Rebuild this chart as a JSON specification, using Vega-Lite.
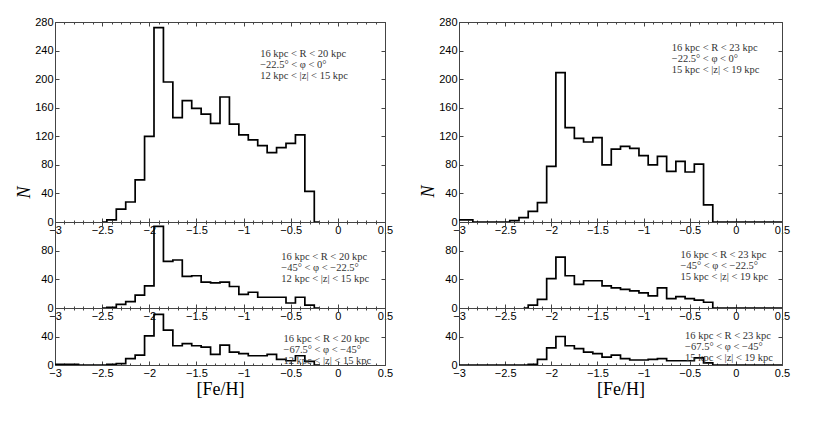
{
  "$schema": "https://vega.github.io/schema/vega-lite/v6.json",
  "background": "white",
  "padding": {"left": 14, "top": 15, "right": 5, "bottom": 5},
  "config": {
    "view": {"stroke": "#444", "strokeWidth": 1},
    "axis": {"grid": false, "domain": false, "labelFont": "Liberation Sans", "labelFontSize": 11, "labelColor": "#000", "tickColor": "#444", "tickWidth": 1, "labelFlush": false, "labelOverlap": false},
    "text": {"font": "Liberation Serif", "fontSize": 10.5, "color": "#333", "lineHeight": 11, "align": "left", "baseline": "middle"}
  },
  "datasets": {
    "hist": [
      {"panel":"LT","feh":-2.5,"n":0},{"panel":"LT","feh":-2.4,"n":3},{"panel":"LT","feh":-2.3,"n":18},{"panel":"LT","feh":-2.2,"n":28},{"panel":"LT","feh":-2.1,"n":59},{"panel":"LT","feh":-2.0,"n":120},{"panel":"LT","feh":-1.9,"n":272},{"panel":"LT","feh":-1.8,"n":196},{"panel":"LT","feh":-1.7,"n":146},{"panel":"LT","feh":-1.6,"n":170},{"panel":"LT","feh":-1.5,"n":159},{"panel":"LT","feh":-1.4,"n":151},{"panel":"LT","feh":-1.3,"n":138},{"panel":"LT","feh":-1.2,"n":175},{"panel":"LT","feh":-1.1,"n":137},{"panel":"LT","feh":-1.0,"n":122},{"panel":"LT","feh":-0.9,"n":115},{"panel":"LT","feh":-0.8,"n":107},{"panel":"LT","feh":-0.7,"n":97},{"panel":"LT","feh":-0.6,"n":104},{"panel":"LT","feh":-0.5,"n":110},{"panel":"LT","feh":-0.4,"n":122},{"panel":"LT","feh":-0.3,"n":43},{"panel":"LT","feh":-0.2,"n":0},
      {"panel":"LM","feh":-2.5,"n":0},{"panel":"LM","feh":-2.4,"n":1},{"panel":"LM","feh":-2.3,"n":5},{"panel":"LM","feh":-2.2,"n":9},{"panel":"LM","feh":-2.1,"n":18},{"panel":"LM","feh":-2.0,"n":31},{"panel":"LM","feh":-1.9,"n":114},{"panel":"LM","feh":-1.8,"n":65},{"panel":"LM","feh":-1.7,"n":67},{"panel":"LM","feh":-1.6,"n":44},{"panel":"LM","feh":-1.5,"n":45},{"panel":"LM","feh":-1.4,"n":36},{"panel":"LM","feh":-1.3,"n":35},{"panel":"LM","feh":-1.2,"n":36},{"panel":"LM","feh":-1.1,"n":30},{"panel":"LM","feh":-1.0,"n":19},{"panel":"LM","feh":-0.9,"n":22},{"panel":"LM","feh":-0.8,"n":15},{"panel":"LM","feh":-0.7,"n":15},{"panel":"LM","feh":-0.6,"n":15},{"panel":"LM","feh":-0.5,"n":7},{"panel":"LM","feh":-0.4,"n":15},{"panel":"LM","feh":-0.3,"n":4},{"panel":"LM","feh":-0.2,"n":0},
      {"panel":"LB","feh":-3.0,"n":1},{"panel":"LB","feh":-2.9,"n":1},{"panel":"LB","feh":-2.8,"n":1},{"panel":"LB","feh":-2.7,"n":0},{"panel":"LB","feh":-2.6,"n":0},{"panel":"LB","feh":-2.5,"n":0},{"panel":"LB","feh":-2.4,"n":1},{"panel":"LB","feh":-2.3,"n":2},{"panel":"LB","feh":-2.2,"n":9},{"panel":"LB","feh":-2.1,"n":14},{"panel":"LB","feh":-2.0,"n":41},{"panel":"LB","feh":-1.9,"n":71},{"panel":"LB","feh":-1.8,"n":49},{"panel":"LB","feh":-1.7,"n":27},{"panel":"LB","feh":-1.6,"n":30},{"panel":"LB","feh":-1.5,"n":27},{"panel":"LB","feh":-1.4,"n":25},{"panel":"LB","feh":-1.3,"n":15},{"panel":"LB","feh":-1.2,"n":28},{"panel":"LB","feh":-1.1,"n":18},{"panel":"LB","feh":-1.0,"n":16},{"panel":"LB","feh":-0.9,"n":13},{"panel":"LB","feh":-0.8,"n":13},{"panel":"LB","feh":-0.7,"n":15},{"panel":"LB","feh":-0.6,"n":8},{"panel":"LB","feh":-0.5,"n":6},{"panel":"LB","feh":-0.4,"n":13},{"panel":"LB","feh":-0.3,"n":5},{"panel":"LB","feh":-0.2,"n":0},
      {"panel":"RT","feh":-3.0,"n":3},{"panel":"RT","feh":-2.9,"n":3},{"panel":"RT","feh":-2.8,"n":0},{"panel":"RT","feh":-2.7,"n":0},{"panel":"RT","feh":-2.6,"n":0},{"panel":"RT","feh":-2.5,"n":0},{"panel":"RT","feh":-2.4,"n":2},{"panel":"RT","feh":-2.3,"n":6},{"panel":"RT","feh":-2.2,"n":15},{"panel":"RT","feh":-2.1,"n":27},{"panel":"RT","feh":-2.0,"n":78},{"panel":"RT","feh":-1.9,"n":209},{"panel":"RT","feh":-1.8,"n":132},{"panel":"RT","feh":-1.7,"n":117},{"panel":"RT","feh":-1.6,"n":112},{"panel":"RT","feh":-1.5,"n":118},{"panel":"RT","feh":-1.4,"n":80},{"panel":"RT","feh":-1.3,"n":102},{"panel":"RT","feh":-1.2,"n":106},{"panel":"RT","feh":-1.1,"n":103},{"panel":"RT","feh":-1.0,"n":93},{"panel":"RT","feh":-0.9,"n":80},{"panel":"RT","feh":-0.8,"n":92},{"panel":"RT","feh":-0.7,"n":71},{"panel":"RT","feh":-0.6,"n":85},{"panel":"RT","feh":-0.5,"n":70},{"panel":"RT","feh":-0.4,"n":81},{"panel":"RT","feh":-0.3,"n":24},{"panel":"RT","feh":-0.2,"n":0},{"panel":"RT","feh":-0.1,"n":0},{"panel":"RT","feh":0.0,"n":0},{"panel":"RT","feh":0.1,"n":0},{"panel":"RT","feh":0.2,"n":0},{"panel":"RT","feh":0.3,"n":0},{"panel":"RT","feh":0.4,"n":0},{"panel":"RT","feh":0.5,"n":0},
      {"panel":"RM","feh":-2.3,"n":0},{"panel":"RM","feh":-2.2,"n":4},{"panel":"RM","feh":-2.1,"n":12},{"panel":"RM","feh":-2.0,"n":41},{"panel":"RM","feh":-1.9,"n":71},{"panel":"RM","feh":-1.8,"n":45},{"panel":"RM","feh":-1.7,"n":33},{"panel":"RM","feh":-1.6,"n":38},{"panel":"RM","feh":-1.5,"n":38},{"panel":"RM","feh":-1.4,"n":31},{"panel":"RM","feh":-1.3,"n":28},{"panel":"RM","feh":-1.2,"n":26},{"panel":"RM","feh":-1.1,"n":24},{"panel":"RM","feh":-1.0,"n":21},{"panel":"RM","feh":-0.9,"n":17},{"panel":"RM","feh":-0.8,"n":28},{"panel":"RM","feh":-0.7,"n":13},{"panel":"RM","feh":-0.6,"n":16},{"panel":"RM","feh":-0.5,"n":13},{"panel":"RM","feh":-0.4,"n":11},{"panel":"RM","feh":-0.3,"n":8},{"panel":"RM","feh":-0.2,"n":0},{"panel":"RM","feh":-0.1,"n":0},{"panel":"RM","feh":0.0,"n":0},{"panel":"RM","feh":0.1,"n":0},{"panel":"RM","feh":0.2,"n":0},{"panel":"RM","feh":0.3,"n":0},{"panel":"RM","feh":0.4,"n":0},{"panel":"RM","feh":0.5,"n":0},
      {"panel":"RB","feh":-3.0,"n":0},{"panel":"RB","feh":-2.9,"n":0},{"panel":"RB","feh":-2.8,"n":0},{"panel":"RB","feh":-2.7,"n":0},{"panel":"RB","feh":-2.6,"n":0},{"panel":"RB","feh":-2.5,"n":0},{"panel":"RB","feh":-2.4,"n":0},{"panel":"RB","feh":-2.3,"n":0},{"panel":"RB","feh":-2.2,"n":1},{"panel":"RB","feh":-2.1,"n":8},{"panel":"RB","feh":-2.0,"n":24},{"panel":"RB","feh":-1.9,"n":40},{"panel":"RB","feh":-1.8,"n":27},{"panel":"RB","feh":-1.7,"n":23},{"panel":"RB","feh":-1.6,"n":18},{"panel":"RB","feh":-1.5,"n":16},{"panel":"RB","feh":-1.4,"n":11},{"panel":"RB","feh":-1.3,"n":14},{"panel":"RB","feh":-1.2,"n":9},{"panel":"RB","feh":-1.1,"n":7},{"panel":"RB","feh":-1.0,"n":7},{"panel":"RB","feh":-0.9,"n":8},{"panel":"RB","feh":-0.8,"n":9},{"panel":"RB","feh":-0.7,"n":6},{"panel":"RB","feh":-0.6,"n":6},{"panel":"RB","feh":-0.5,"n":6},{"panel":"RB","feh":-0.4,"n":10},{"panel":"RB","feh":-0.3,"n":3},{"panel":"RB","feh":-0.2,"n":0},{"panel":"RB","feh":-0.1,"n":0},{"panel":"RB","feh":0.0,"n":0},{"panel":"RB","feh":0.1,"n":0},{"panel":"RB","feh":0.2,"n":0},{"panel":"RB","feh":0.3,"n":0},{"panel":"RB","feh":0.4,"n":0},{"panel":"RB","feh":0.5,"n":0}
    ]
  },
  "columns": 2,
  "spacing": {"row": 0, "column": 74},
  "bounds": "flush",
  "concat": [
    {
      "width": 330, "height": 200,
      "data": {"name": "hist"},
      "transform": [{"filter": "datum.panel === 'LT'"}],
      "layer": [
        {"mark": {"type": "line", "interpolate": "step", "color": "#000", "strokeWidth": 1.7, "clip": true},
         "encoding": {
           "x": {"field": "feh", "type": "quantitative", "scale": {"domain": [-3, 0.5], "nice": false, "zero": false}, "axis": {"orient": "bottom", "values": [-3,-2.5,-2,-1.5,-1,-0.5,0,0.5], "format": "~g", "ticks": false, "labelPadding": 2, "title": null}},
           "y": {"field": "n", "type": "quantitative", "scale": {"domain": [0, 280], "nice": false, "zero": false}, "axis": {"orient": "left", "values": [0,40,80,120,160,200,240,280], "ticks": false, "labelPadding": 2, "title": "N", "titleFont": "Liberation Serif", "titleFontStyle": "italic", "titleFontWeight": "normal", "titleFontSize": 18, "titleColor": "#000", "titleAngle": -90, "titleX": -31, "titleY": 170, "titleBaseline": "middle", "titleAlign": "center"}}
         }},
        {"mark": {"type": "line", "strokeOpacity": 0},
         "encoding": {
           "x": {"field": "feh", "type": "quantitative", "axis": {"orient": "bottom", "values": [-3,-2.5,-2,-1.5,-1,-0.5,0,0.5], "labels": false, "tickSize": -4, "title": null}},
           "y": {"field": "n", "type": "quantitative", "axis": {"orient": "left", "values": [0,40,80,120,160,200,240,280], "labels": false, "tickSize": -4, "title": null}}
         }},
        {"mark": {"type": "line", "strokeOpacity": 0},
         "encoding": {
           "x": {"field": "feh", "type": "quantitative", "axis": {"orient": "top", "values": [-3,-2.5,-2,-1.5,-1,-0.5,0,0.5], "labels": false, "tickSize": -4, "title": null}},
           "y": {"field": "n", "type": "quantitative", "axis": {"orient": "right", "values": [0,40,80,120,160,200,240,280], "labels": false, "tickSize": -4, "title": null}}
         }},
        {"mark": {"type": "line", "strokeOpacity": 0},
         "encoding": {
           "x": {"field": "feh", "type": "quantitative", "axis": {"orient": "bottom", "values": [-3,-2.9,-2.8,-2.7,-2.6,-2.5,-2.4,-2.3,-2.2,-2.1,-2,-1.9,-1.8,-1.7,-1.6,-1.5,-1.4,-1.3,-1.2,-1.1,-1,-0.9,-0.8,-0.7,-0.6,-0.5,-0.4,-0.3,-0.2,-0.1,0,0.1,0.2,0.3,0.4,0.5], "labels": false, "tickSize": -2, "title": null}},
           "y": {"field": "n", "type": "quantitative", "axis": null}
         }},
        {"mark": {"type": "line", "strokeOpacity": 0},
         "encoding": {
           "x": {"field": "feh", "type": "quantitative", "axis": {"orient": "top", "values": [-3,-2.9,-2.8,-2.7,-2.6,-2.5,-2.4,-2.3,-2.2,-2.1,-2,-1.9,-1.8,-1.7,-1.6,-1.5,-1.4,-1.3,-1.2,-1.1,-1,-0.9,-0.8,-0.7,-0.6,-0.5,-0.4,-0.3,-0.2,-0.1,0,0.1,0.2,0.3,0.4,0.5], "labels": false, "tickSize": -2, "title": null}},
           "y": {"field": "n", "type": "quantitative", "axis": null}
         }},
        {"data": {"values": [{}]},
         "mark": {"type": "text", "text": ["16 kpc < R < 20 kpc", "−22.5° < φ < 0°", "12 kpc < |z| < 15 kpc"]},
         "encoding": {"x": {"datum": -0.824, "type": "quantitative", "axis": null}, "y": {"datum": 235, "type": "quantitative", "axis": null}}}
      ],
      "resolve": {"axis": {"x": "independent", "y": "independent"}}
    },
    {
      "width": 323, "height": 200,
      "data": {"name": "hist"},
      "transform": [{"filter": "datum.panel === 'RT'"}],
      "layer": [
        {"mark": {"type": "line", "interpolate": "step", "color": "#000", "strokeWidth": 1.7, "clip": true},
         "encoding": {
           "x": {"field": "feh", "type": "quantitative", "scale": {"domain": [-3, 0.5], "nice": false, "zero": false}, "axis": {"orient": "bottom", "values": [-3,-2.5,-2,-1.5,-1,-0.5,0,0.5], "format": "~g", "ticks": false, "labelPadding": 2, "title": null}},
           "y": {"field": "n", "type": "quantitative", "scale": {"domain": [0, 280], "nice": false, "zero": false}, "axis": {"orient": "left", "values": [0,40,80,120,160,200,240,280], "ticks": false, "labelPadding": 2, "title": "N", "titleFont": "Liberation Serif", "titleFontStyle": "italic", "titleFontWeight": "normal", "titleFontSize": 18, "titleColor": "#000", "titleAngle": -90, "titleX": -31, "titleY": 169, "titleBaseline": "middle", "titleAlign": "center"}}
         }},
        {"mark": {"type": "line", "strokeOpacity": 0},
         "encoding": {
           "x": {"field": "feh", "type": "quantitative", "axis": {"orient": "bottom", "values": [-3,-2.5,-2,-1.5,-1,-0.5,0,0.5], "labels": false, "tickSize": -4, "title": null}},
           "y": {"field": "n", "type": "quantitative", "axis": {"orient": "left", "values": [0,40,80,120,160,200,240,280], "labels": false, "tickSize": -4, "title": null}}
         }},
        {"mark": {"type": "line", "strokeOpacity": 0},
         "encoding": {
           "x": {"field": "feh", "type": "quantitative", "axis": {"orient": "top", "values": [-3,-2.5,-2,-1.5,-1,-0.5,0,0.5], "labels": false, "tickSize": -4, "title": null}},
           "y": {"field": "n", "type": "quantitative", "axis": {"orient": "right", "values": [0,40,80,120,160,200,240,280], "labels": false, "tickSize": -4, "title": null}}
         }},
        {"mark": {"type": "line", "strokeOpacity": 0},
         "encoding": {
           "x": {"field": "feh", "type": "quantitative", "axis": {"orient": "bottom", "values": [-3,-2.9,-2.8,-2.7,-2.6,-2.5,-2.4,-2.3,-2.2,-2.1,-2,-1.9,-1.8,-1.7,-1.6,-1.5,-1.4,-1.3,-1.2,-1.1,-1,-0.9,-0.8,-0.7,-0.6,-0.5,-0.4,-0.3,-0.2,-0.1,0,0.1,0.2,0.3,0.4,0.5], "labels": false, "tickSize": -2, "title": null}},
           "y": {"field": "n", "type": "quantitative", "axis": null}
         }},
        {"mark": {"type": "line", "strokeOpacity": 0},
         "encoding": {
           "x": {"field": "feh", "type": "quantitative", "axis": {"orient": "top", "values": [-3,-2.9,-2.8,-2.7,-2.6,-2.5,-2.4,-2.3,-2.2,-2.1,-2,-1.9,-1.8,-1.7,-1.6,-1.5,-1.4,-1.3,-1.2,-1.1,-1,-0.9,-0.8,-0.7,-0.6,-0.5,-0.4,-0.3,-0.2,-0.1,0,0.1,0.2,0.3,0.4,0.5], "labels": false, "tickSize": -2, "title": null}},
           "y": {"field": "n", "type": "quantitative", "axis": null}
         }},
        {"data": {"values": [{}]},
         "mark": {"type": "text", "text": ["16 kpc < R < 23 kpc", "−22.5° < φ < 0°", "15 kpc < |z| < 19 kpc"]},
         "encoding": {"x": {"datum": -0.695, "type": "quantitative", "axis": null}, "y": {"datum": 243, "type": "quantitative", "axis": null}}}
      ],
      "resolve": {"axis": {"x": "independent", "y": "independent"}}
    },
    {
      "width": 330, "height": 86,
      "data": {"name": "hist"},
      "transform": [{"filter": "datum.panel === 'LM'"}],
      "layer": [
        {"mark": {"type": "line", "interpolate": "step", "color": "#000", "strokeWidth": 1.7, "clip": true},
         "encoding": {
           "x": {"field": "feh", "type": "quantitative", "scale": {"domain": [-3, 0.5], "nice": false, "zero": false}, "axis": {"orient": "bottom", "values": [-3,-2.5,-2,-1.5,-1,-0.5,0,0.5], "format": "~g", "ticks": false, "labelPadding": 2, "title": null}},
           "y": {"field": "n", "type": "quantitative", "scale": {"domain": [0, 120], "nice": false, "zero": false}, "axis": {"orient": "left", "values": [0,40,80], "ticks": false, "labelPadding": 2, "title": null}}
         }},
        {"mark": {"type": "line", "strokeOpacity": 0},
         "encoding": {
           "x": {"field": "feh", "type": "quantitative", "axis": {"orient": "bottom", "values": [-3,-2.5,-2,-1.5,-1,-0.5,0,0.5], "labels": false, "tickSize": -4, "title": null}},
           "y": {"field": "n", "type": "quantitative", "axis": {"orient": "left", "values": [0,40,80], "labels": false, "tickSize": -4, "title": null}}
         }},
        {"mark": {"type": "line", "strokeOpacity": 0},
         "encoding": {
           "x": {"field": "feh", "type": "quantitative", "axis": {"orient": "top", "values": [-3,-2.5,-2,-1.5,-1,-0.5,0,0.5], "labels": false, "tickSize": -4, "title": null}},
           "y": {"field": "n", "type": "quantitative", "axis": {"orient": "right", "values": [0,40,80], "labels": false, "tickSize": -4, "title": null}}
         }},
        {"mark": {"type": "line", "strokeOpacity": 0},
         "encoding": {
           "x": {"field": "feh", "type": "quantitative", "axis": {"orient": "bottom", "values": [-3,-2.9,-2.8,-2.7,-2.6,-2.5,-2.4,-2.3,-2.2,-2.1,-2,-1.9,-1.8,-1.7,-1.6,-1.5,-1.4,-1.3,-1.2,-1.1,-1,-0.9,-0.8,-0.7,-0.6,-0.5,-0.4,-0.3,-0.2,-0.1,0,0.1,0.2,0.3,0.4,0.5], "labels": false, "tickSize": -2, "title": null}},
           "y": {"field": "n", "type": "quantitative", "axis": null}
         }},
        {"mark": {"type": "line", "strokeOpacity": 0},
         "encoding": {
           "x": {"field": "feh", "type": "quantitative", "axis": {"orient": "top", "values": [-3,-2.9,-2.8,-2.7,-2.6,-2.5,-2.4,-2.3,-2.2,-2.1,-2,-1.9,-1.8,-1.7,-1.6,-1.5,-1.4,-1.3,-1.2,-1.1,-1,-0.9,-0.8,-0.7,-0.6,-0.5,-0.4,-0.3,-0.2,-0.1,0,0.1,0.2,0.3,0.4,0.5], "labels": false, "tickSize": -2, "title": null}},
           "y": {"field": "n", "type": "quantitative", "axis": null}
         }},
        {"data": {"values": [{}]},
         "mark": {"type": "text", "text": ["16 kpc < R < 20 kpc", "−45° < φ < −22.5°", "12 kpc < |z| < 15 kpc"]},
         "encoding": {"x": {"datum": -0.6, "type": "quantitative", "axis": null}, "y": {"datum": 70.7, "type": "quantitative", "axis": null}}}
      ],
      "resolve": {"axis": {"x": "independent", "y": "independent"}}
    },
    {
      "width": 323, "height": 86,
      "data": {"name": "hist"},
      "transform": [{"filter": "datum.panel === 'RM'"}],
      "layer": [
        {"mark": {"type": "line", "interpolate": "step", "color": "#000", "strokeWidth": 1.7, "clip": true},
         "encoding": {
           "x": {"field": "feh", "type": "quantitative", "scale": {"domain": [-3, 0.5], "nice": false, "zero": false}, "axis": {"orient": "bottom", "values": [-3,-2.5,-2,-1.5,-1,-0.5,0,0.5], "format": "~g", "ticks": false, "labelPadding": 2, "title": null}},
           "y": {"field": "n", "type": "quantitative", "scale": {"domain": [0, 120], "nice": false, "zero": false}, "axis": {"orient": "left", "values": [0,40,80], "ticks": false, "labelPadding": 2, "title": null}}
         }},
        {"mark": {"type": "line", "strokeOpacity": 0},
         "encoding": {
           "x": {"field": "feh", "type": "quantitative", "axis": {"orient": "bottom", "values": [-3,-2.5,-2,-1.5,-1,-0.5,0,0.5], "labels": false, "tickSize": -4, "title": null}},
           "y": {"field": "n", "type": "quantitative", "axis": {"orient": "left", "values": [0,40,80], "labels": false, "tickSize": -4, "title": null}}
         }},
        {"mark": {"type": "line", "strokeOpacity": 0},
         "encoding": {
           "x": {"field": "feh", "type": "quantitative", "axis": {"orient": "top", "values": [-3,-2.5,-2,-1.5,-1,-0.5,0,0.5], "labels": false, "tickSize": -4, "title": null}},
           "y": {"field": "n", "type": "quantitative", "axis": {"orient": "right", "values": [0,40,80], "labels": false, "tickSize": -4, "title": null}}
         }},
        {"mark": {"type": "line", "strokeOpacity": 0},
         "encoding": {
           "x": {"field": "feh", "type": "quantitative", "axis": {"orient": "bottom", "values": [-3,-2.9,-2.8,-2.7,-2.6,-2.5,-2.4,-2.3,-2.2,-2.1,-2,-1.9,-1.8,-1.7,-1.6,-1.5,-1.4,-1.3,-1.2,-1.1,-1,-0.9,-0.8,-0.7,-0.6,-0.5,-0.4,-0.3,-0.2,-0.1,0,0.1,0.2,0.3,0.4,0.5], "labels": false, "tickSize": -2, "title": null}},
           "y": {"field": "n", "type": "quantitative", "axis": null}
         }},
        {"mark": {"type": "line", "strokeOpacity": 0},
         "encoding": {
           "x": {"field": "feh", "type": "quantitative", "axis": {"orient": "top", "values": [-3,-2.9,-2.8,-2.7,-2.6,-2.5,-2.4,-2.3,-2.2,-2.1,-2,-1.9,-1.8,-1.7,-1.6,-1.5,-1.4,-1.3,-1.2,-1.1,-1,-0.9,-0.8,-0.7,-0.6,-0.5,-0.4,-0.3,-0.2,-0.1,0,0.1,0.2,0.3,0.4,0.5], "labels": false, "tickSize": -2, "title": null}},
           "y": {"field": "n", "type": "quantitative", "axis": null}
         }},
        {"data": {"values": [{}]},
         "mark": {"type": "text", "text": ["16 kpc < R < 23 kpc", "−45° < φ < −22.5°", "15 kpc < |z| < 19 kpc"]},
         "encoding": {"x": {"datum": -0.6, "type": "quantitative", "axis": null}, "y": {"datum": 74.6, "type": "quantitative", "axis": null}}}
      ],
      "resolve": {"axis": {"x": "independent", "y": "independent"}}
    },
    {
      "width": 330, "height": 57,
      "data": {"name": "hist"},
      "transform": [{"filter": "datum.panel === 'LB'"}],
      "layer": [
        {"mark": {"type": "line", "interpolate": "step", "color": "#000", "strokeWidth": 1.7, "clip": true},
         "encoding": {
           "x": {"field": "feh", "type": "quantitative", "scale": {"domain": [-3, 0.5], "nice": false, "zero": false}, "axis": {"orient": "bottom", "values": [-3,-2.5,-2,-1.5,-1,-0.5,0,0.5], "format": "~g", "ticks": false, "labelPadding": 2, "title": "[Fe/H]", "titleFont": "Liberation Serif", "titleFontWeight": "normal", "titleFontSize": 18, "titleColor": "#000", "titlePadding": 2}},
           "y": {"field": "n", "type": "quantitative", "scale": {"domain": [0, 80], "nice": false, "zero": false}, "axis": {"orient": "left", "values": [0,40], "ticks": false, "labelPadding": 2, "title": null}}
         }},
        {"mark": {"type": "line", "strokeOpacity": 0},
         "encoding": {
           "x": {"field": "feh", "type": "quantitative", "axis": {"orient": "bottom", "values": [-3,-2.5,-2,-1.5,-1,-0.5,0,0.5], "labels": false, "tickSize": -4, "title": null}},
           "y": {"field": "n", "type": "quantitative", "axis": {"orient": "left", "values": [0,40], "labels": false, "tickSize": -4, "title": null}}
         }},
        {"mark": {"type": "line", "strokeOpacity": 0},
         "encoding": {
           "x": {"field": "feh", "type": "quantitative", "axis": {"orient": "top", "values": [-3,-2.5,-2,-1.5,-1,-0.5,0,0.5], "labels": false, "tickSize": -4, "title": null}},
           "y": {"field": "n", "type": "quantitative", "axis": {"orient": "right", "values": [0,40], "labels": false, "tickSize": -4, "title": null}}
         }},
        {"mark": {"type": "line", "strokeOpacity": 0},
         "encoding": {
           "x": {"field": "feh", "type": "quantitative", "axis": {"orient": "bottom", "values": [-3,-2.9,-2.8,-2.7,-2.6,-2.5,-2.4,-2.3,-2.2,-2.1,-2,-1.9,-1.8,-1.7,-1.6,-1.5,-1.4,-1.3,-1.2,-1.1,-1,-0.9,-0.8,-0.7,-0.6,-0.5,-0.4,-0.3,-0.2,-0.1,0,0.1,0.2,0.3,0.4,0.5], "labels": false, "tickSize": -2, "title": null}},
           "y": {"field": "n", "type": "quantitative", "axis": null}
         }},
        {"mark": {"type": "line", "strokeOpacity": 0},
         "encoding": {
           "x": {"field": "feh", "type": "quantitative", "axis": {"orient": "top", "values": [-3,-2.9,-2.8,-2.7,-2.6,-2.5,-2.4,-2.3,-2.2,-2.1,-2,-1.9,-1.8,-1.7,-1.6,-1.5,-1.4,-1.3,-1.2,-1.1,-1,-0.9,-0.8,-0.7,-0.6,-0.5,-0.4,-0.3,-0.2,-0.1,0,0.1,0.2,0.3,0.4,0.5], "labels": false, "tickSize": -2, "title": null}},
           "y": {"field": "n", "type": "quantitative", "axis": null}
         }},
        {"data": {"values": [{}]},
         "mark": {"type": "text", "text": ["16 kpc < R < 20 kpc", "−67.5° < φ < −45°", "12 kpc < |z| < 15 kpc"]},
         "encoding": {"x": {"datum": -0.577, "type": "quantitative", "axis": null}, "y": {"datum": 36.6, "type": "quantitative", "axis": null}}}
      ],
      "resolve": {"axis": {"x": "independent", "y": "independent"}}
    },
    {
      "width": 323, "height": 57,
      "data": {"name": "hist"},
      "transform": [{"filter": "datum.panel === 'RB'"}],
      "layer": [
        {"mark": {"type": "line", "interpolate": "step", "color": "#000", "strokeWidth": 1.7, "clip": true},
         "encoding": {
           "x": {"field": "feh", "type": "quantitative", "scale": {"domain": [-3, 0.5], "nice": false, "zero": false}, "axis": {"orient": "bottom", "values": [-3,-2.5,-2,-1.5,-1,-0.5,0,0.5], "format": "~g", "ticks": false, "labelPadding": 2, "title": "[Fe/H]", "titleFont": "Liberation Serif", "titleFontWeight": "normal", "titleFontSize": 18, "titleColor": "#000", "titlePadding": 2}},
           "y": {"field": "n", "type": "quantitative", "scale": {"domain": [0, 80], "nice": false, "zero": false}, "axis": {"orient": "left", "values": [0,40], "ticks": false, "labelPadding": 2, "title": null}}
         }},
        {"mark": {"type": "line", "strokeOpacity": 0},
         "encoding": {
           "x": {"field": "feh", "type": "quantitative", "axis": {"orient": "bottom", "values": [-3,-2.5,-2,-1.5,-1,-0.5,0,0.5], "labels": false, "tickSize": -4, "title": null}},
           "y": {"field": "n", "type": "quantitative", "axis": {"orient": "left", "values": [0,40], "labels": false, "tickSize": -4, "title": null}}
         }},
        {"mark": {"type": "line", "strokeOpacity": 0},
         "encoding": {
           "x": {"field": "feh", "type": "quantitative", "axis": {"orient": "top", "values": [-3,-2.5,-2,-1.5,-1,-0.5,0,0.5], "labels": false, "tickSize": -4, "title": null}},
           "y": {"field": "n", "type": "quantitative", "axis": {"orient": "right", "values": [0,40], "labels": false, "tickSize": -4, "title": null}}
         }},
        {"mark": {"type": "line", "strokeOpacity": 0},
         "encoding": {
           "x": {"field": "feh", "type": "quantitative", "axis": {"orient": "bottom", "values": [-3,-2.9,-2.8,-2.7,-2.6,-2.5,-2.4,-2.3,-2.2,-2.1,-2,-1.9,-1.8,-1.7,-1.6,-1.5,-1.4,-1.3,-1.2,-1.1,-1,-0.9,-0.8,-0.7,-0.6,-0.5,-0.4,-0.3,-0.2,-0.1,0,0.1,0.2,0.3,0.4,0.5], "labels": false, "tickSize": -2, "title": null}},
           "y": {"field": "n", "type": "quantitative", "axis": null}
         }},
        {"mark": {"type": "line", "strokeOpacity": 0},
         "encoding": {
           "x": {"field": "feh", "type": "quantitative", "axis": {"orient": "top", "values": [-3,-2.9,-2.8,-2.7,-2.6,-2.5,-2.4,-2.3,-2.2,-2.1,-2,-1.9,-1.8,-1.7,-1.6,-1.5,-1.4,-1.3,-1.2,-1.1,-1,-0.9,-0.8,-0.7,-0.6,-0.5,-0.4,-0.3,-0.2,-0.1,0,0.1,0.2,0.3,0.4,0.5], "labels": false, "tickSize": -2, "title": null}},
           "y": {"field": "n", "type": "quantitative", "axis": null}
         }},
        {"data": {"values": [{}]},
         "mark": {"type": "text", "text": ["16 kpc < R < 23 kpc", "−67.5° < φ < −45°", "15 kpc < |z| < 19 kpc"]},
         "encoding": {"x": {"datum": -0.55, "type": "quantitative", "axis": null}, "y": {"datum": 40.5, "type": "quantitative", "axis": null}}}
      ],
      "resolve": {"axis": {"x": "independent", "y": "independent"}}
    }
  ]
}
